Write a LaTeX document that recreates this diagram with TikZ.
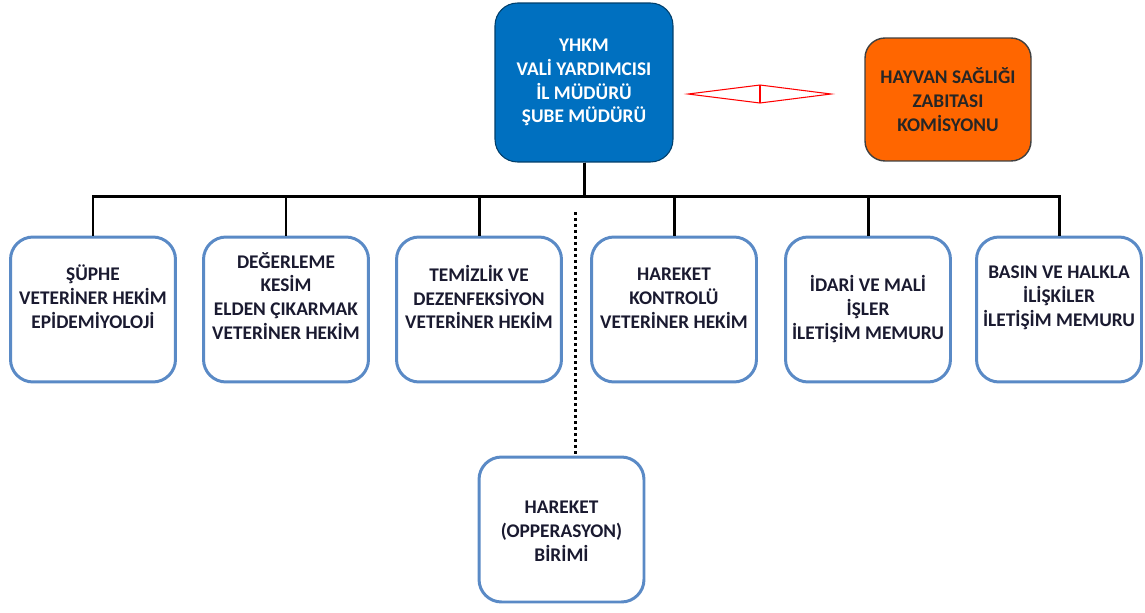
\documentclass[tikz,border=0pt]{standalone}
\usepackage{fontspec}
\setmainfont{Carlito}
\definecolor{chiefblue}{HTML}{0070C0}
\definecolor{comorange}{HTML}{FF6600}
\definecolor{unitframe}{HTML}{5A8AC6}
\definecolor{unitink}{HTML}{1A1A30}
\tikzset{
  chief/.style={draw=chiefblue!55!black, line width=0.6pt, fill=chiefblue, rounded corners=0.45cm,
    minimum width=3.56cm, minimum height=3.18cm, align=center, text=white,
    font=\bfseries\fontsize{11}{13.6}\selectfont},
  commission/.style={draw=black!75, line width=0.8pt, fill=comorange, rounded corners=0.4cm,
    minimum width=3.32cm, minimum height=2.46cm, align=center, text=black!85,
    font=\bfseries\fontsize{11}{13.6}\selectfont},
  unit/.style={draw=unitframe, line width=1.7pt, rounded corners=0.45cm, fill=white,
    minimum width=3.3cm, minimum height=2.9cm},
  unitlabel/.style={align=center, inner sep=0pt, text=unitink,
    font=\bfseries\fontsize{11}{13.6}\selectfont},
  bus/.style={line width=1.7pt},
  opline/.style={line width=1.7pt, dash pattern=on 1.7pt off 1.7pt},
}

\begin{document}
\begin{tikzpicture}[x=0.02cm,y=-0.02cm]
		%%%%% START %%%%%
		\useasboundingbox (0,0) rectangle (1145,612);
		
		\node[chief] (chief) at (584,82.5) {YHKM\\VALİ YARDIMCISI\\İL MÜDÜRÜ\\ŞUBE MÜDÜRÜ};
		\node[commission] (comm) at (948,99.5) {HAYVAN SAĞLIĞI\\ZABITASI\\KOMİSYONU};
		
		% red two-way arrow
		\draw[red, line width=0.6pt] (688,94) -- (760,85) -- (831,94) -- (760,103) -- cycle;
		\draw[red, line width=0.6pt] (760,85) -- (760,103);
		
		\node[unit] (b1) at (93,309.5) {};
		\node[unit] (b2) at (286,309.5) {};
		\node[unit] (b3) at (479,309.5) {};
		\node[unit] (b4) at (674,309.5) {};
		\node[unit] (b5) at (868,309.5) {};
		\node[unit] (b6) at (1059,309.5) {};
		\node[unit] (op) at (561.5,529.5) {};
		
		\node[unitlabel] (b1txt) at (93,297) {ŞÜPHE\\VETERİNER HEKİM\\EPİDEMİYOLOJİ};
		\node[unitlabel] (b2txt) at (286,296) {DEĞERLEME\\KESİM\\ELDEN ÇIKARMAK\\VETERİNER HEKİM};
		\node[unitlabel] (b3txt) at (479,297) {TEMİZLİK VE\\DEZENFEKSİYON\\VETERİNER HEKİM};
		\node[unitlabel] (b4txt) at (674,298) {HAREKET\\KONTROLÜ\\VETERİNER HEKİM};
		\node[unitlabel] (b5txt) at (868,309) {İDARİ VE MALİ\\İŞLER\\İLETİŞİM MEMURU};
		\node[unitlabel] (b6txt) at (1059,298) {BASIN VE HALKLA\\İLİŞKİLER\\İLETİŞİM MEMURU};
		\node[unitlabel] (optxt) at (561.5,531) {HAREKET\\(OPPERASYON)\\BİRİMİ};
		
		\foreach \b in {b1,b2,b3,b4,b5,b6}
			\draw[bus] (chief.south) -- ++(0,34) -| (\b.north);
		
		\coordinate (dotstart) at (575,212);
		\draw[opline] (dotstart) -- (dotstart |- op.north);
		%%%%% END %%%%%
\end{tikzpicture}
\end{document}
